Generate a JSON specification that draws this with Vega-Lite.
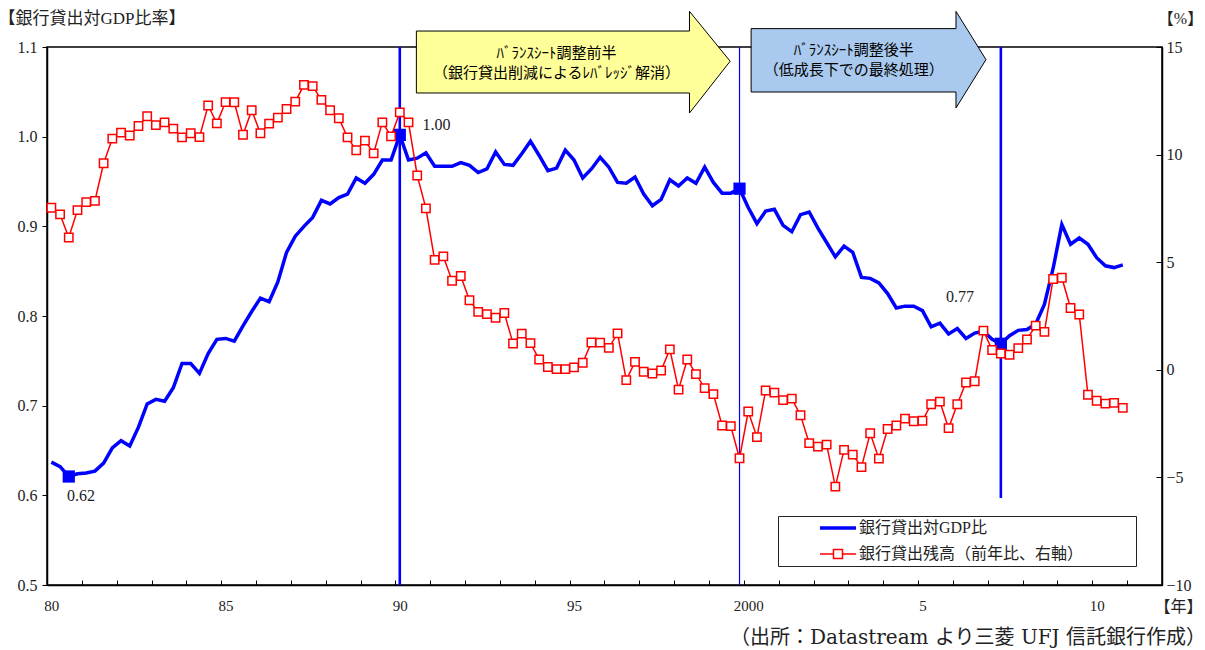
{
  "$schema": "https://vega.github.io/schema/vega-lite/v6.json",
  "width": 1115,
  "height": 538,
  "autosize": {"type": "none"},
  "padding": {"left": 47, "top": 47, "right": 43, "bottom": 65},
  "background": "white",
  "config": {
    "view": {"stroke": "#000", "strokeWidth": 1.5},
    "axis": {"domainColor": "#000", "domainWidth": 1.5, "tickColor": "#000", "tickWidth": 1, "grid": false, "labelColor": "#222", "labelFont": "Liberation Serif", "labelFontSize": 16, "titleFont": "Liberation Serif, Noto Sans CJK JP", "titleFontWeight": "normal", "titleFontSize": 16, "titleColor": "#222", "labelFlush": false, "labelOverlap": false}
  },
  "title": {"text": "（出所：Datastream より三菱 UFJ 信託銀行作成）", "orient": "bottom", "anchor": "end", "frame": "group", "font": "DejaVu Serif, Noto Sans CJK JP", "fontSize": 20, "fontWeight": "normal", "color": "#222", "dx": 44, "offset": 14},
  "datasets": {
    "gdp": [
      {"t":1980,"v":0.637},{"t":1980.25,"v":0.632},{"t":1980.5,"v":0.621},{"t":1980.75,"v":0.624},
      {"t":1981,"v":0.625},{"t":1981.25,"v":0.627},{"t":1981.5,"v":0.636},{"t":1981.75,"v":0.653},
      {"t":1982,"v":0.661},{"t":1982.25,"v":0.655},{"t":1982.5,"v":0.676},{"t":1982.75,"v":0.702},
      {"t":1983,"v":0.707},{"t":1983.25,"v":0.705},{"t":1983.5,"v":0.720},{"t":1983.75,"v":0.747},
      {"t":1984,"v":0.747},{"t":1984.25,"v":0.736},{"t":1984.5,"v":0.758},{"t":1984.75,"v":0.774},
      {"t":1985,"v":0.775},{"t":1985.25,"v":0.772},{"t":1985.5,"v":0.789},{"t":1985.75,"v":0.805},
      {"t":1986,"v":0.820},{"t":1986.25,"v":0.816},{"t":1986.5,"v":0.838},{"t":1986.75,"v":0.871},
      {"t":1987,"v":0.889},{"t":1987.25,"v":0.900},{"t":1987.5,"v":0.910},{"t":1987.75,"v":0.929},
      {"t":1988,"v":0.925},{"t":1988.25,"v":0.932},{"t":1988.5,"v":0.936},{"t":1988.75,"v":0.954},
      {"t":1989,"v":0.948},{"t":1989.25,"v":0.958},{"t":1989.5,"v":0.974},{"t":1989.75,"v":0.974},
      {"t":1990,"v":1.002},{"t":1990.25,"v":0.974},{"t":1990.5,"v":0.976},{"t":1990.75,"v":0.982},
      {"t":1991,"v":0.967},{"t":1991.25,"v":0.967},{"t":1991.5,"v":0.967},{"t":1991.75,"v":0.971},
      {"t":1992,"v":0.968},{"t":1992.25,"v":0.960},{"t":1992.5,"v":0.964},{"t":1992.75,"v":0.983},
      {"t":1993,"v":0.969},{"t":1993.25,"v":0.968},{"t":1993.5,"v":0.981},{"t":1993.75,"v":0.995},
      {"t":1994,"v":0.979},{"t":1994.25,"v":0.962},{"t":1994.5,"v":0.965},{"t":1994.75,"v":0.985},
      {"t":1995,"v":0.974},{"t":1995.25,"v":0.954},{"t":1995.5,"v":0.964},{"t":1995.75,"v":0.977},
      {"t":1996,"v":0.966},{"t":1996.25,"v":0.949},{"t":1996.5,"v":0.948},{"t":1996.75,"v":0.955},
      {"t":1997,"v":0.936},{"t":1997.25,"v":0.923},{"t":1997.5,"v":0.930},{"t":1997.75,"v":0.952},
      {"t":1998,"v":0.945},{"t":1998.25,"v":0.954},{"t":1998.5,"v":0.948},{"t":1998.75,"v":0.966},
      {"t":1999,"v":0.949},{"t":1999.25,"v":0.937},{"t":1999.5,"v":0.937},{"t":1999.75,"v":0.942},
      {"t":2000,"v":0.921},{"t":2000.25,"v":0.903},{"t":2000.5,"v":0.917},{"t":2000.75,"v":0.919},
      {"t":2001,"v":0.901},{"t":2001.25,"v":0.894},{"t":2001.5,"v":0.913},{"t":2001.75,"v":0.916},
      {"t":2002,"v":0.898},{"t":2002.25,"v":0.882},{"t":2002.5,"v":0.866},{"t":2002.75,"v":0.878},
      {"t":2003,"v":0.871},{"t":2003.25,"v":0.843},{"t":2003.5,"v":0.842},{"t":2003.75,"v":0.837},
      {"t":2004,"v":0.825},{"t":2004.25,"v":0.809},{"t":2004.5,"v":0.811},{"t":2004.75,"v":0.811},
      {"t":2005,"v":0.806},{"t":2005.25,"v":0.788},{"t":2005.5,"v":0.792},{"t":2005.75,"v":0.780},
      {"t":2006,"v":0.786},{"t":2006.25,"v":0.775},{"t":2006.5,"v":0.781},{"t":2006.75,"v":0.783},
      {"t":2007,"v":0.774},{"t":2007.25,"v":0.769},{"t":2007.5,"v":0.778},{"t":2007.75,"v":0.784},
      {"t":2008,"v":0.785},{"t":2008.25,"v":0.791},{"t":2008.5,"v":0.813},{"t":2008.75,"v":0.853},
      {"t":2009,"v":0.902},{"t":2009.25,"v":0.880},{"t":2009.5,"v":0.887},{"t":2009.75,"v":0.880},
      {"t":2010,"v":0.865},{"t":2010.25,"v":0.856},{"t":2010.5,"v":0.854},{"t":2010.75,"v":0.857}
    ],
    "loan": [
      {"t":1980,"p":7.53},{"t":1980.25,"p":7.22},{"t":1980.5,"p":6.15},{"t":1980.75,"p":7.42},
      {"t":1981,"p":7.79},{"t":1981.25,"p":7.85},{"t":1981.5,"p":9.60},{"t":1981.75,"p":10.74},
      {"t":1982,"p":11.02},{"t":1982.25,"p":10.89},{"t":1982.5,"p":11.33},{"t":1982.75,"p":11.78},
      {"t":1983,"p":11.37},{"t":1983.25,"p":11.50},{"t":1983.5,"p":11.21},{"t":1983.75,"p":10.80},
      {"t":1984,"p":10.99},{"t":1984.25,"p":10.81},{"t":1984.5,"p":12.28},{"t":1984.75,"p":11.45},
      {"t":1985,"p":12.44},{"t":1985.25,"p":12.43},{"t":1985.5,"p":10.92},{"t":1985.75,"p":12.06},
      {"t":1986,"p":10.99},{"t":1986.25,"p":11.44},{"t":1986.5,"p":11.72},{"t":1986.75,"p":12.12},
      {"t":1987,"p":12.46},{"t":1987.25,"p":13.24},{"t":1987.5,"p":13.18},{"t":1987.75,"p":12.54},
      {"t":1988,"p":12.06},{"t":1988.25,"p":11.69},{"t":1988.5,"p":10.80},{"t":1988.75,"p":10.20},
      {"t":1989,"p":10.65},{"t":1989.25,"p":10.06},{"t":1989.5,"p":11.50},{"t":1989.75,"p":10.85},
      {"t":1990,"p":11.96},{"t":1990.25,"p":11.50},{"t":1990.5,"p":9.03},{"t":1990.75,"p":7.50},
      {"t":1991,"p":5.11},{"t":1991.25,"p":5.27},{"t":1991.5,"p":4.14},{"t":1991.75,"p":4.36},
      {"t":1992,"p":3.23},{"t":1992.25,"p":2.69},{"t":1992.5,"p":2.59},{"t":1992.75,"p":2.42},
      {"t":1993,"p":2.64},{"t":1993.25,"p":1.22},{"t":1993.5,"p":1.68},{"t":1993.75,"p":1.24},
      {"t":1994,"p":0.48},{"t":1994.25,"p":0.13},{"t":1994.5,"p":0.03},{"t":1994.75,"p":0.03},
      {"t":1995,"p":0.11},{"t":1995.25,"p":0.33},{"t":1995.5,"p":1.27},{"t":1995.75,"p":1.26},
      {"t":1996,"p":1.02},{"t":1996.25,"p":1.69},{"t":1996.5,"p":-0.48},{"t":1996.75,"p":0.37},
      {"t":1997,"p":-0.09},{"t":1997.25,"p":-0.17},{"t":1997.5,"p":-0.03},{"t":1997.75,"p":0.95},
      {"t":1998,"p":-0.92},{"t":1998.25,"p":0.48},{"t":1998.5,"p":-0.20},{"t":1998.75,"p":-0.85},
      {"t":1999,"p":-1.13},{"t":1999.25,"p":-2.59},{"t":1999.5,"p":-2.62},{"t":1999.75,"p":-4.11},
      {"t":2000,"p":-1.94},{"t":2000.25,"p":-3.13},{"t":2000.5,"p":-0.96},{"t":2000.75,"p":-1.06},
      {"t":2001,"p":-1.41},{"t":2001.25,"p":-1.34},{"t":2001.5,"p":-2.11},{"t":2001.75,"p":-3.41},
      {"t":2002,"p":-3.57},{"t":2002.25,"p":-3.48},{"t":2002.5,"p":-5.43},{"t":2002.75,"p":-3.72},
      {"t":2003,"p":-3.94},{"t":2003.25,"p":-4.52},{"t":2003.5,"p":-2.95},{"t":2003.75,"p":-4.13},
      {"t":2004,"p":-2.75},{"t":2004.25,"p":-2.59},{"t":2004.5,"p":-2.27},{"t":2004.75,"p":-2.39},
      {"t":2005,"p":-2.37},{"t":2005.25,"p":-1.60},{"t":2005.5,"p":-1.48},{"t":2005.75,"p":-2.71},
      {"t":2006,"p":-1.60},{"t":2006.25,"p":-0.59},{"t":2006.5,"p":-0.53},{"t":2006.75,"p":1.82},
      {"t":2007,"p":0.92},{"t":2007.25,"p":0.76},{"t":2007.5,"p":0.70},{"t":2007.75,"p":1.01},
      {"t":2008,"p":1.41},{"t":2008.25,"p":2.05},{"t":2008.5,"p":1.76},{"t":2008.75,"p":4.22},
      {"t":2009,"p":4.28},{"t":2009.25,"p":2.87},{"t":2009.5,"p":2.57},{"t":2009.75,"p":-1.16},
      {"t":2010,"p":-1.44},{"t":2010.25,"p":-1.57},{"t":2010.5,"p":-1.54},{"t":2010.75,"p":-1.77}
    ],
    "arrows": [
      {"phase":"前半","t":1990.476,"v":1.1178,"v2":1.0487},
      {"phase":"前半","t":1998.314,"v":1.1178,"v2":1.0487},
      {"phase":"前半","t":1998.314,"v":1.1398,"v2":1.0264},
      {"phase":"前半","t":1999.481,"v":1.0841,"v2":1.0841},
      {"phase":"後半","t":2000.083,"v":1.1205,"v2":1.0498},
      {"phase":"後半","t":2005.962,"v":1.1205,"v2":1.0498},
      {"phase":"後半","t":2005.962,"v":1.1398,"v2":1.032},
      {"phase":"後半","t":2006.823,"v":1.0859,"v2":1.0859}
    ],
    "arrowText": [
      {"t":1994.5,"v":1.0935,"text":"ﾊﾞﾗﾝｽｼｰﾄ調整前半"},
      {"t":1994.5,"v":1.0715,"text":"（銀行貸出削減によるﾚﾊﾞﾚｯｼﾞ解消）"},
      {"t":2003.03,"v":1.0962,"text":"ﾊﾞﾗﾝｽｼｰﾄ調整後半"},
      {"t":2003.03,"v":1.0741,"text":"（低成長下での最終処理）"}
    ],
    "bounds": [
      {"t":1990,"v":1.1,"v2":0.5},
      {"t":1999.75,"v":1.1,"v2":0.5},
      {"t":2007.25,"v":1.1,"v2":0.597}
    ],
    "notes": [
      {"t":1980.45,"v":0.599,"label":"0.62"},
      {"t":1990.65,"v":1.0127,"label":"1.00"},
      {"t":2005.675,"v":0.8212,"label":"0.77"}
    ]
  },
  "encoding": {
    "x": {
      "field": "t", "type": "quantitative",
      "scale": {"domain": [1979.875, 2011.875], "nice": false, "zero": false},
      "axis": {
        "title": "【年】", "titleAngle": 0, "titleAlign": "center", "titleBaseline": "middle", "titleX": 1131, "titleY": 21,
        "values": [1980,1981,1982,1983,1984,1985,1986,1987,1988,1989,1990,1991,1992,1993,1994,1995,1996,1997,1998,1999,2000,2001,2002,2003,2004,2005,2006,2007,2008,2009,2010,2011],
        "tickOffset": -4.36, "labelOffset": 4.36, "tickSize": -5, "labelPadding": 18, "labelFontSize": 15,
        "labelExpr": "datum.value % 5 === 0 ? (datum.value === 2000 ? '2000' : (datum.value < 2000 ? '' + (datum.value - 1900) : '' + (datum.value - 2000))) : ''"
      }
    }
  },
  "layer": [
    {
      "encoding": {
        "y": {
          "field": "v", "type": "quantitative",
          "scale": {"domain": [0.5, 1.1], "nice": false, "zero": false},
          "axis": {
            "orient": "left", "title": "【銀行貸出対GDP比率】", "titleFontSize": 17, "titleAngle": 0, "titleAlign": "left", "titleBaseline": "middle", "titleX": -49, "titleY": -29,
            "values": [0.5, 0.6, 0.7, 0.8, 0.9, 1.0, 1.1], "format": ".1f", "tickSize": 5, "labelPadding": 5
          }
        }
      },
      "layer": [
        {
          "data": {"name": "arrows"},
          "mark": {"type": "area", "stroke": "#000", "strokeWidth": 1, "opacity": 1, "fillOpacity": 1},
          "encoding": {
            "y2": {"field": "v2"},
            "fill": {"field": "phase", "type": "nominal", "scale": {"domain": ["前半", "後半"], "range": ["#ffff99", "#a9c9ee"]}, "legend": null}
          }
        },
        {
          "data": {"name": "arrowText"},
          "mark": {"type": "text", "font": "Noto Sans CJK JP", "fontSize": 15, "color": "#000", "align": "center", "baseline": "middle"},
          "encoding": {"text": {"field": "text"}}
        },
        {
          "data": {"name": "bounds"},
          "mark": {"type": "rule", "color": "#0000ff"},
          "encoding": {
            "y2": {"field": "v2"},
            "strokeWidth": {"condition": {"test": "datum.t === 1999.75", "value": 1.2}, "value": 2.6}
          }
        },
        {
          "data": {"name": "gdp"},
          "mark": {"type": "line", "strokeWidth": 3.5},
          "encoding": {
            "color": {
              "datum": "銀行貸出対GDP比", "type": "nominal",
              "scale": {"domain": ["銀行貸出対GDP比", "銀行貸出残高（前年比、右軸）"], "range": ["#0000ff", "#ff0000"]},
              "legend": {
                "title": null, "orient": "none", "legendX": 731, "legendY": 469,
                "padding": 4, "strokeColor": "#222", "fillColor": "#fff",
                "symbolSize": 484, "symbolStrokeWidth": 1.5, "symbolOffset": 48, "labelOffset": 13, "rowPadding": 10,
                "labelFont": "Liberation Serif, Noto Sans CJK JP", "labelFontSize": 16, "labelColor": "#222", "labelLimit": 600,
                "labelExpr": "datum.label + '\u2800\u2800\u2800\u2800'",
                "encode": {
                  "symbols": {
                    "update": {
                      "shape": {"signal": "datum.value === '銀行貸出対GDP比' ? 'M-1.64,0H1.64' : 'M-1.64,0H-0.41M0.41,0H1.64M-0.41,-0.41H0.41V0.41H-0.41Z'"},
                      "strokeWidth": {"signal": "datum.value === '銀行貸出対GDP比' ? 3.5 : 1.5"},
                      "fill": {"value": "#fff"},
                      "opacity": {"value": 1}
                    }
                  }
                }
              }
            }
          }
        },
        {
          "data": {"name": "gdp"},
          "transform": [{"filter": {"field": "t", "oneOf": [1980.5, 1990, 1999.75, 2007.25]}}],
          "mark": {"type": "point", "shape": "square", "filled": true, "color": "#0000ff", "size": 150, "opacity": 1}
        },
        {
          "data": {"name": "notes"},
          "mark": {"type": "text", "font": "Liberation Serif", "fontSize": 16, "color": "#222", "align": "left", "baseline": "middle"},
          "encoding": {"text": {"field": "label"}}
        }
      ]
    },
    {
      "encoding": {
        "y": {
          "field": "p", "type": "quantitative",
          "scale": {"domain": [-10, 15], "nice": false, "zero": false},
          "axis": {
            "orient": "right", "title": "【%】", "titleAngle": 0, "titleAlign": "center", "titleBaseline": "middle", "titleX": 18, "titleY": -29,
            "values": [-10, -5, 0, 5, 10, 15], "format": "d", "tickSize": -6, "labelPadding": 10
          }
        }
      },
      "layer": [
        {
          "data": {"values": [{}]},
          "mark": {"type": "rule", "color": "#333", "strokeWidth": 1},
          "encoding": {"x": {"datum": 1979.875}, "x2": {"datum": 2011.875}, "y": {"datum": 0}}
        },
        {
          "data": {"name": "loan"},
          "mark": {"type": "line", "strokeWidth": 1.5},
          "encoding": {"color": {"datum": "銀行貸出残高（前年比、右軸）", "type": "nominal"}}
        },
        {
          "data": {"name": "loan"},
          "mark": {"type": "point", "shape": "square", "filled": true, "fill": "#fff", "stroke": "#ff0000", "strokeWidth": 1.5, "size": 70, "opacity": 1}
        }
      ]
    }
  ],
  "resolve": {"scale": {"y": "independent"}}
}
